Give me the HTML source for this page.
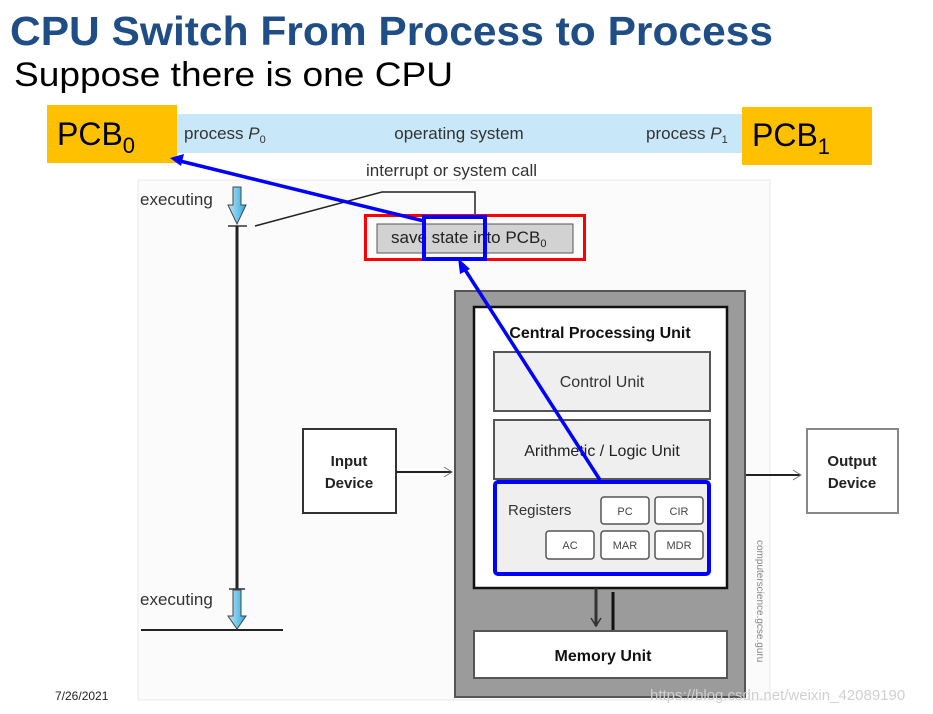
<!DOCTYPE html>
<html><head><meta charset="utf-8"><style>
html,body{margin:0;padding:0;background:#fff;}
svg{display:block;font-family:"Liberation Sans",sans-serif;}
</style></head><body>
<svg width="933" height="714" viewBox="0 0 933 714" xmlns="http://www.w3.org/2000/svg">
<defs>
<linearGradient id="ag" x1="0" x2="1"><stop offset="0" stop-color="#bfe6f8"/><stop offset="1" stop-color="#2aa8e0"/></linearGradient>
</defs>
<rect x="138" y="180" width="632" height="520" fill="#fbfbfb" stroke="#e8e8e8" stroke-width="1"/>
<text x="10" y="45" font-size="41" font-weight="bold" fill="#1f4e86" textLength="763" lengthAdjust="spacingAndGlyphs">CPU Switch From Process to Process</text>
<text x="14" y="86" font-size="34" fill="#000" textLength="439" lengthAdjust="spacingAndGlyphs">Suppose there is one CPU</text>
<rect x="177" y="114" width="565" height="39" fill="#c8e7f8"/>
<rect x="47" y="105" width="130" height="58" fill="#ffc000"/>
<text x="57" y="145" font-size="32">PCB<tspan font-size="22" dy="8">0</tspan></text>
<rect x="742" y="107" width="130" height="58" fill="#ffc000"/>
<text x="752" y="146" font-size="32">PCB<tspan font-size="22" dy="8">1</tspan></text>
<text x="184" y="139" font-size="17" fill="#333">process <tspan font-style="italic">P</tspan><tspan font-size="11" dy="4">0</tspan></text>
<text x="459" y="139" font-size="17" fill="#333" text-anchor="middle">operating system</text>
<text x="646" y="139" font-size="17" fill="#333">process <tspan font-style="italic">P</tspan><tspan font-size="11" dy="4">1</tspan></text>
<text x="366" y="176" font-size="17" fill="#333">interrupt or system call</text>
<text x="140" y="205" font-size="17" fill="#333">executing</text>
<path d="M233 187 h8 v18 h5 l-9 19 l-9 -19 h5z" fill="url(#ag)" stroke="#444" stroke-width="1"/>
<line x1="228" y1="226" x2="247" y2="226" stroke="#333" stroke-width="1.5"/>
<line x1="237" y1="226" x2="237" y2="590" stroke="#222" stroke-width="3"/>
<polyline points="255,226 382,192 475,192 475,215" fill="none" stroke="#222" stroke-width="1.5"/>
<rect x="365.5" y="215.5" width="219" height="44" fill="none" stroke="#f00" stroke-width="3"/>
<rect x="377" y="224" width="196" height="29" fill="#d2d2d2" stroke="#555" stroke-width="1"/>
<text x="391" y="243" font-size="17" fill="#222">save state into PCB<tspan font-size="11" dy="4">0</tspan></text>
<rect x="424" y="217" width="61" height="42" fill="none" stroke="#0000ff" stroke-width="4"/>
<line x1="141" y1="630" x2="283" y2="630" stroke="#222" stroke-width="2"/>
<text x="140" y="605" font-size="17" fill="#333">executing</text>
<line x1="229" y1="589" x2="245" y2="589" stroke="#333" stroke-width="1.5"/>
<path d="M233 590 h8 v26 h5 l-9 13 l-9 -13 h5z" fill="url(#ag)" stroke="#444" stroke-width="1"/>
<rect x="303" y="429" width="93" height="84" fill="#fff" stroke="#333" stroke-width="2"/>
<text x="349" y="466" font-size="15" font-weight="bold" text-anchor="middle" fill="#222">Input</text>
<text x="349" y="488" font-size="15" font-weight="bold" text-anchor="middle" fill="#222">Device</text>
<line x1="396" y1="472" x2="452" y2="472" stroke="#222" stroke-width="2"/>
<path d="M444 467 l8 5 l-8 5" fill="none" stroke="#777" stroke-width="1"/>
<rect x="807" y="429" width="91" height="84" fill="#fff" stroke="#888" stroke-width="2"/>
<text x="852" y="466" font-size="15" font-weight="bold" text-anchor="middle" fill="#222">Output</text>
<text x="852" y="488" font-size="15" font-weight="bold" text-anchor="middle" fill="#222">Device</text>
<line x1="745" y1="475" x2="800" y2="475" stroke="#222" stroke-width="2"/>
<path d="M793 470 l8 5 l-8 5" fill="none" stroke="#777" stroke-width="1"/>
<rect x="455" y="291" width="290" height="406" fill="#9b9b9b" stroke="#555" stroke-width="2"/>
<rect x="474" y="307" width="253" height="281" fill="#fff" stroke="#111" stroke-width="2.5"/>
<text x="600" y="338" font-size="16" font-weight="bold" text-anchor="middle" fill="#111">Central Processing Unit</text>
<rect x="494" y="352" width="216" height="59" fill="#efefef" stroke="#555" stroke-width="2"/>
<text x="602" y="387" font-size="16" text-anchor="middle" fill="#333">Control Unit</text>
<rect x="494" y="420" width="216" height="59" fill="#efefef" stroke="#555" stroke-width="2"/>
<text x="602" y="456" font-size="16" text-anchor="middle" fill="#222">Arithmetic / Logic Unit</text>
<rect x="496" y="483" width="213" height="91" fill="#efefef"/>
<text x="508" y="515" font-size="15" fill="#333">Registers</text>
<g font-size="11" text-anchor="middle" fill="#444">
<rect x="601" y="497" width="48" height="27" rx="3" fill="#fff" stroke="#555" stroke-width="1.5"/><text x="625" y="515">PC</text>
<rect x="655" y="497" width="48" height="27" rx="3" fill="#fff" stroke="#555" stroke-width="1.5"/><text x="679" y="515">CIR</text>
<rect x="546" y="531" width="48" height="28" rx="3" fill="#fff" stroke="#555" stroke-width="1.5"/><text x="570" y="549">AC</text>
<rect x="601" y="531" width="48" height="28" rx="3" fill="#fff" stroke="#555" stroke-width="1.5"/><text x="625" y="549">MAR</text>
<rect x="655" y="531" width="48" height="28" rx="3" fill="#fff" stroke="#555" stroke-width="1.5"/><text x="679" y="549">MDR</text>
</g>
<rect x="495" y="482" width="214" height="92" rx="3" fill="none" stroke="#0000ff" stroke-width="4"/>
<line x1="596" y1="588" x2="596" y2="626" stroke="#333" stroke-width="3"/>
<path d="M591 618 l5 8 l5 -8" fill="none" stroke="#333" stroke-width="1.5"/>
<line x1="613" y1="592" x2="613" y2="631" stroke="#111" stroke-width="3"/>
<rect x="474" y="631" width="253" height="47" fill="#fff" stroke="#555" stroke-width="2"/>
<text x="603" y="661" font-size="16" font-weight="bold" text-anchor="middle" fill="#111">Memory Unit</text>
<text x="757" y="540" font-size="10" fill="#888" transform="rotate(90 757 540)">computerscience.gcse.guru</text>
<line x1="600" y1="480" x2="462" y2="265" stroke="#0000ff" stroke-width="3.5"/>
<path d="M458 258 l12 11 l-10 5z" fill="#0000ff"/>
<line x1="424" y1="221" x2="180" y2="161" stroke="#0000ff" stroke-width="3.5"/>
<path d="M170 158 l14 -4 l-3 12z" fill="#0000ff"/>
<text x="55" y="700" font-size="12" fill="#222">7/26/2021</text>
<text x="650" y="700" font-size="15" fill="#d0d0d0">https://blog.csdn.net/weixin_42089190</text>
</svg>
</body></html>
